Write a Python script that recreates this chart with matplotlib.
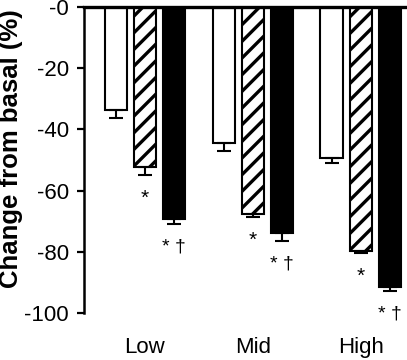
import numpy as np
import matplotlib
matplotlib.use("Agg")
import matplotlib.pyplot as plt

groups = ["Low", "Mid", "High"]
white_vals = [-33.7, -44.4, -49.5]
white_err = [2.6, 2.6, 1.6]
hatch_vals = [-52.3, -67.6, -79.7]
hatch_err = [2.7, 1.0, 0.7]
black_vals = [-69.3, -73.9, -91.5]
black_err = [1.7, 2.6, 1.3]
hatch_marks = ["*", "*", "*"]
black_marks = ["* \u2020", "* \u2020", "* \u2020"]

plt.rcParams['font.family'] = ['Liberation Sans', 'DejaVu Sans']
plt.rcParams['hatch.linewidth'] = 2.4

fig = plt.figure(figsize=(4.07, 3.6), dpi=100)
ax = fig.add_axes([84/407, 1-313/360, 1-84/407, (313-7)/360])

x = np.arange(len(groups))
step = 0.27
w = 0.205
ekw = dict(elinewidth=1.5, capthick=1.5, capsize=5, ecolor='black')

def err_down(e):
    return [np.array(e), np.zeros(len(e))]

ax.bar(x-step, white_vals, w, color='white', edgecolor='black', linewidth=1.5,
       yerr=err_down(white_err), error_kw=ekw)
ax.bar(x, hatch_vals, w, color='white', edgecolor='black', linewidth=1.5, hatch='//',
       yerr=err_down(hatch_err), error_kw=ekw)
ax.bar(x+step, black_vals, w, color='black', edgecolor='black', linewidth=1.5,
       yerr=err_down(black_err), error_kw=ekw)

for i in range(len(groups)):
    ax.text(x[i], hatch_vals[i]-hatch_err[i]-7.5, hatch_marks[i], ha='center', va='center', fontsize=15)
    ax.text(x[i]+step, black_vals[i]-black_err[i]-7.5, black_marks[i], ha='center', va='center', fontsize=14)

ax.set_ylim(-100, 0)
ax.set_xlim(-0.565, 2.43)
ax.set_yticks([-100, -80, -60, -40, -20, 0])
ax.set_yticklabels(['-100', '-80', '-60', '-40', '-20', '-0'], fontsize=16)
ax.set_xticks(x)
ax.set_xticklabels(groups, fontsize=16)
ax.tick_params(axis='x', length=0, pad=17)
ax.tick_params(axis='y', length=5, width=1.6, direction='out', pad=6)

ax.spines['right'].set_visible(False)
ax.spines['bottom'].set_visible(False)
ax.spines['top'].set_linewidth(2.4)
ax.spines['left'].set_linewidth(1.8)

fig.text(11/407, 1-149/360, "Change from basal (%)", rotation=90, ha='center', va='center',
         fontsize=18.5, fontweight='bold')

fig.savefig("out.png", dpi=100)
